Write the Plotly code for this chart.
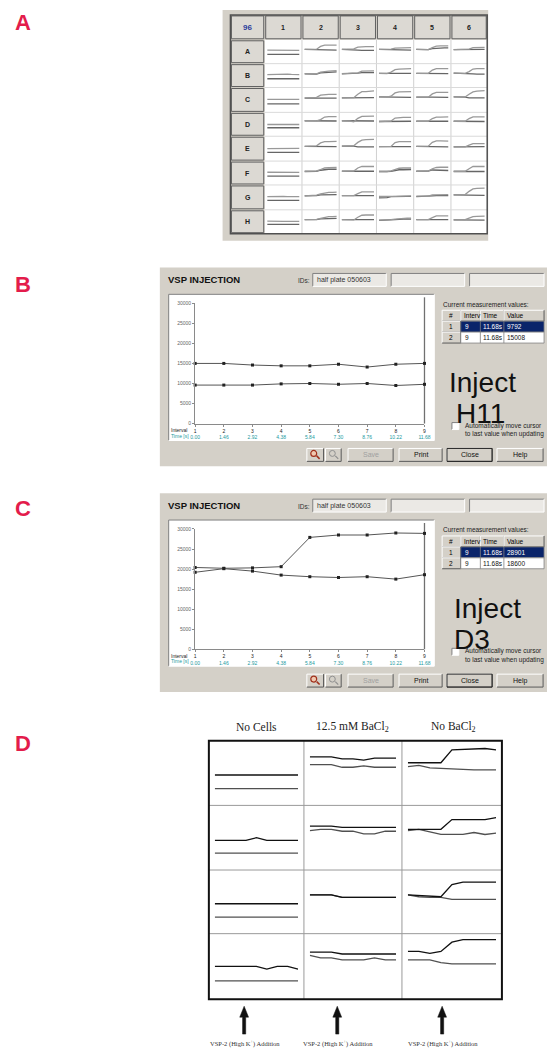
import plotly.graph_objects as go

W, H = 553, 1051
GRAY = "#d4d0c8"

# ---------------- data ----------------
intervals = [1, 2, 3, 4, 5, 6, 7, 8, 9]
time_labels = ["0.00", "1.46", "2.92", "4.38", "5.84", "7.30", "8.76", "10.22", "11.68"]
y_ticks = [0, 5000, 10000, 15000, 20000, 25000, 30000]

plate_cols = ["1", "2", "3", "4", "5", "6"]
plate_rows = ["A", "B", "C", "D", "E", "F", "G", "H"]

# Panel A: per plate row, one list per column (1..6), signal per interval
plate_A_upper = [[18500,18500,18000,17500,17500,18000,18000,18000,18000],[20000,20000,20200,20500,26000,28500,28500,28800,28800],[20000,20000,20000,21000,24500,25500,25500,25500,25500],[20000,20000,20000,20500,22500,23000,23500,23000,23500],[20000,20000,20000,19500,23500,26500,27000,27000,27000],[19500,19500,19500,19500,20500,23500,24000,24000,24000]]
plate_A_lower = [[10000,10000,10000,10000,10000,10000,10000,10000,10000],[20000,20000,19800,19500,19500,19000,19000,18800,18500],[20000,20000,19500,19500,18500,18000,18000,18500,18000],[20000,20000,19800,19500,19000,18500,19000,18500,18500],[20000,20000,19800,19500,21500,22500,23000,23000,23000],[19500,19500,19500,19500,19500,20000,20000,20000,20000]]
plate_B_upper = [[17500,18000,18500,18000,18000,18500,18000,18000,17500],[19500,19500,19000,19000,22500,24000,24500,25000,25500],[19500,19500,19500,20000,21000,24500,25000,25000,25000],[20000,19500,19500,22500,27500,28500,28500,29000,29500],[20000,20000,20000,20000,26500,29500,29500,29500,29500],[20500,20500,20500,20000,23500,28500,29500,29500,29500]]
plate_B_lower = [[9000,9000,9000,9000,9000,9000,9000,9000,9000],[19000,18500,18500,18500,21000,22000,22500,22500,23000],[19000,19000,19500,20000,20500,21500,21500,21500,21500],[20000,19500,19000,20000,20000,20000,20000,20000,20000],[20000,20000,20000,19500,19500,19500,19500,19500,19500],[20500,20500,20500,20000,19000,19000,18500,18500,18500]]
plate_C_upper = [[15500,15500,15500,15500,15500,15500,15500,15500,15500],[18500,18500,18500,19500,24000,25500,25500,25500,25500],[18500,18500,18500,19000,26000,31000,31000,31500,32500],[20500,20500,20000,22000,28500,30500,30500,30500,31000],[20000,19500,20000,20000,26500,29500,29500,29500,29500],[20500,20500,20500,20500,26000,30500,32000,32000,33000]]
plate_C_lower = [[6500,6500,6500,6500,6500,6500,6500,6500,6500],[18000,18000,18000,18000,18000,18000,18000,18000,18000],[18500,18500,18500,18500,19000,19000,19000,19000,19000],[20500,20500,20000,19500,19500,19000,19000,19000,19500],[20000,19500,20000,20000,20000,20000,20000,20000,19500],[20500,20500,20500,20000,18500,18500,18500,18000,18500]]
plate_D_upper = [[15000,15000,14500,15000,14500,15000,15500,15000,15000],[22500,22500,22500,22500,25000,30000,31000,31000,31000],[22500,22500,22000,20500,27500,31500,32000,32000,32000],[21000,21000,21000,22000,28000,29500,29500,29500,29500],[21500,21500,21500,21500,27000,30000,30000,30500,30500],[21500,21500,21500,21500,27000,30500,30500,30500,30500]]
plate_D_lower = [[8500,8500,8500,8500,8500,8500,8500,8500,8500],[22500,22500,22000,22000,22000,22000,22000,22000,22000],[22500,22500,22000,21000,22000,22000,22000,22000,22000],[21000,21000,21000,21500,21500,21500,21500,21500,21500],[21500,21500,21500,21500,21500,21500,21000,21500,21500],[21500,21500,21500,21000,21000,21000,21500,21000,21000]]
plate_E_upper = [[14500,14500,15000,15500,15000,14500,14500,15000,15000],[19000,19000,19000,20000,26000,28500,28500,29000,29000],[19500,19500,20000,20500,27000,31500,32500,33000,33000],[18500,18500,18500,19000,26500,28500,28500,28500,28500],[19000,19000,19000,19500,27000,30000,30000,30000,29500],[18000,18000,18000,18000,21500,24500,24500,24500,24500]]
plate_E_lower = [[7000,7000,7000,7000,7000,7000,7000,7000,7000],[19000,19000,19000,19000,18500,18500,18500,18500,18500],[19500,19500,20000,19500,18000,18500,18000,18000,18000],[18500,18500,18500,18500,18500,18500,18500,18500,18500],[19000,19000,19000,19000,18000,18000,17500,18000,18000],[18000,18000,18000,18000,18500,18500,18500,18500,18500]]
plate_F_upper = [[17000,17000,16500,16500,16000,16500,16500,17000,16500],[19000,19000,19000,19500,22500,25500,26000,26500,26500],[19000,19000,19000,19500,25500,28500,28500,28500,28500],[18500,18000,18500,19500,23000,25000,25500,25500,25500],[19000,19000,19000,19500,24000,26500,27000,27000,27000],[19000,19000,19000,19000,24000,28500,28500,28500,28500]]
plate_F_lower = [[9000,9000,9000,9000,9000,9000,9000,9000,9000],[18500,18500,18500,19000,21000,22500,23000,23000,23000],[19000,19000,19000,19000,19000,19000,19000,19000,19000],[18500,18000,18500,19000,21000,22000,22000,22000,22500],[19000,19000,19000,19500,21500,21500,20000,20500,20500],[18500,18500,18500,18500,18500,18500,18500,18500,18500]]
plate_G_upper = [[16000,16500,16000,16000,16500,16000,16500,16500,16000],[17500,17500,18000,19000,21500,23500,24500,24500,25000],[18000,18000,18000,18000,22000,25500,25500,25500,25500],[16500,17000,17500,16500,16500,17000,17000,16500,17500],[17000,17000,16500,17000,19500,20000,20000,20000,20000],[19500,19500,19500,20000,26500,31500,32500,33000,33000]]
plate_G_lower = [[8500,8500,8500,8500,8500,8500,8500,8500,8500],[17500,17500,17500,18000,19500,20000,20000,19500,20000],[18000,18000,18000,18000,18000,18000,18000,18000,18000],[13500,13500,14000,16000,16500,16500,16500,16500,16500],[16000,16000,16500,16500,17500,18000,18000,18000,18000],[19500,19500,19500,19500,18500,18500,18500,18500,18500]]
plate_H_upper = [[16500,16000,16000,16000,16000,16000,16000,16000,16000],[19500,19500,19500,20000,22000,24500,25500,25500,26000],[19500,19500,19500,19000,24500,28500,29000,29000,29000],[18500,18500,19000,19500,20500,21500,22000,22500,22500],[19500,19500,19500,19500,23500,27000,27000,27000,27000],[19000,19000,19000,19500,22500,25500,26000,26000,26500]]
plate_H_lower = [[10000,10000,10000,10000,10000,10000,10000,10000,10000],[19500,19500,19000,19500,21000,21500,22000,22000,22000],[19500,19500,19500,19000,19500,19500,19500,19500,19500],[18000,18000,18500,19000,19500,20000,21000,21000,20500],[19500,19500,19500,19500,19500,19500,19500,19500,19500],[19000,19000,19000,19000,19500,19000,18500,18500,18500]]

# Panels B and C: VSP injection readings (two traces each)
b_well = "H11"
b_trace1 = [9600, 9600, 9600, 9900, 10000, 9800, 10000, 9500, 9792]
b_trace2 = [15000, 15000, 14600, 14400, 14400, 14800, 14100, 14800, 15008]
c_well = "D3"
c_trace1 = [20400, 20200, 20300, 20600, 27900, 28500, 28500, 29000, 28901]
c_trace2 = [19200, 20100, 19500, 18500, 18100, 17900, 18100, 17500, 18600]

# Panel D: relative signal (% of cell height), per row, columns No Cells / BaCl2 / No BaCl2
d_columns = ["No Cells", "12.5 mM BaCl<sub>2</sub>", "No BaCl<sub>2</sub>"]
d_row1_upper = [[47,47,47,47,47,47,47,47,47],[75,75,75,72,72,70,73,73,73],[66,66,66,66,86,87,87,88,86]]
d_row1_lower = [[26,26,26,26,26,26,26,26,26],[63,63,63,59,59,61,59,59,59],[60,62,58,57,56,55,55,55,55]]
d_row2_upper = [[46,46,46,46,50,46,46,46,46],[68,68,68,66,66,66,66,66,66],[63,63,63,63,78,78,78,78,81]]
d_row2_lower = [[26,26,26,26,26,26,26,26,26],[61,63,63,60,60,56,56,60,60],[61,63,59,55,55,55,58,55,57]]
d_row3_upper = [[47,47,47,47,47,47,47,47,47],[61,61,61,57,57,57,57,57,57],[61,60,59,58,77,81,81,81,81]]
d_row3_lower = [[26,26,26,26,26,26,26,26,26],[61,61,61,57,57,57,57,57,57],[61,58,57,57,54,54,54,54,54]]
d_row4_upper = [[50,50,50,50,50,46,50,50,46],[72,72,72,69,69,69,69,69,69],[73,73,70,73,87,91,91,91,91]]
d_row4_lower = [[28,28,28,28,28,28,28,28,28],[67,63,63,60,60,60,63,60,60],[60,60,60,56,54,54,54,54,54]]
d_addition_label = "VSP-2 (High K<sup>+</sup>) Addition"

# ---------------- helpers ----------------
fig = go.Figure()
shapes, annotations, axes = [], [], {}
n_axes = [0]


def X(x):
    return x / W


def Y(y):
    return 1 - y / H


def rect(x0, y0, x1, y1, fill="rgba(0,0,0,0)", line=None, lw=1, layer="below"):
    shapes.append(dict(type="rect", xref="paper", yref="paper", x0=X(x0), x1=X(x1), y0=Y(y1), y1=Y(y0),
                       fillcolor=fill, layer=layer,
                       line=dict(color=line if line else "rgba(0,0,0,0)", width=lw if line else 0)))


def seg(x0, y0, x1, y1, color, lw=1, layer="below"):
    shapes.append(dict(type="line", xref="paper", yref="paper", x0=X(x0), x1=X(x1), y0=Y(y0), y1=Y(y1),
                       line=dict(color=color, width=lw), layer=layer))


def text(x, y, s, size, color="#000", family="Liberation Sans", xanchor="left", yanchor="middle"):
    annotations.append(dict(x=X(x), y=Y(y), xref="paper", yref="paper", text=s, showarrow=False,
                            xanchor=xanchor, yanchor=yanchor, borderpad=0,
                            font=dict(size=size, color=color, family=family)))


def bevel(x0, y0, x1, y1, raised=True, fill=GRAY):
    rect(x0, y0, x1, y1, fill=fill)
    light, dark = ("#ffffff", "#5a5a5a") if raised else ("#808080", "#ffffff")
    seg(x0, y0, x1, y0, light)
    seg(x0, y0, x0, y1, light)
    seg(x0, y1, x1, y1, dark)
    seg(x1, y0, x1, y1, dark)


def add_axes(x0, x1, y0, y1, xr, yr, xextra=None, yextra=None):
    n_axes[0] += 1
    k = n_axes[0]
    s = "" if k == 1 else str(k)
    xa = dict(domain=[X(x0), X(x1)], range=xr, anchor="y" + s, visible=False, fixedrange=True,
              showgrid=False, zeroline=False)
    ya = dict(domain=[Y(y1), Y(y0)], range=yr, anchor="x" + s, visible=False, fixedrange=True,
              showgrid=False, zeroline=False)
    if xextra:
        xa.update(xextra)
    if yextra:
        ya.update(yextra)
    axes["xaxis" + s] = xa
    axes["yaxis" + s] = ya
    return "x" + s, "y" + s


def line_trace(xa, ya, yv, color, width, mode="lines", marker=None):
    fig.add_trace(go.Scatter(x=intervals, y=yv, xaxis=xa, yaxis=ya, mode=mode,
                             line=dict(color=color, width=width), marker=marker or {},
                             hoverinfo="skip", showlegend=False, cliponaxis=False))


# ---------------- panel letters ----------------
for lab, yy in [("A", 20), ("B", 283), ("C", 508), ("D", 745)]:
    text(18, yy, "<b>%s</b>" % lab, 22, color="#e31c4b", xanchor="center")

# ---------------- Panel A: plate grid ----------------
rect(222, 7, 493, 239, fill=GRAY)
xe = [230, 265, 303, 341, 379, 417, 455, 492]
ye = [12, 37, 61, 85, 110, 134, 159, 183, 208, 232]
rect(265, 37, 492, 232, fill="white")
for xv in xe[2:-1]:
    seg(xv, 37, xv, 232, "#d0d0d0", 1)
for yv in ye[2:-1]:
    seg(265, yv, 492, yv, "#dadada", 1)
# header cells
for i in range(7):
    rect(xe[i] + 1, ye[0] + 1, xe[i + 1] - 1, ye[1] - 1, fill="#dcd9d3", line="#606060", lw=1)
for j in range(1, 9):
    rect(xe[0] + 1, ye[j] + 1, xe[1] - 1, ye[j + 1] - 1, fill="#dcd9d3", line="#606060", lw=1)
rect(230, 12, 492, 232, line="#505050", lw=1.5)
text((xe[0] + xe[1]) / 2, (ye[0] + ye[1]) / 2, "<b>96</b>", 8, color="#2a3c9c", xanchor="center")
for i, c in enumerate(plate_cols):
    text((xe[i + 1] + xe[i + 2]) / 2, (ye[0] + ye[1]) / 2, "<b>%s</b>" % c, 7, color="#222", xanchor="center")
for j, r in enumerate(plate_rows):
    text((xe[0] + xe[1]) / 2, (ye[j + 1] + ye[j + 2]) / 2, "<b>%s</b>" % r, 7, color="#222", xanchor="center")

plate_upper = [plate_A_upper, plate_B_upper, plate_C_upper, plate_D_upper,
               plate_E_upper, plate_F_upper, plate_G_upper, plate_H_upper]
plate_lower = [plate_A_lower, plate_B_lower, plate_C_lower, plate_D_lower,
               plate_E_lower, plate_F_lower, plate_G_lower, plate_H_lower]
for j in range(8):
    top, bot = ye[j + 1], ye[j + 2]
    hgt = bot - top
    yr = [39400 - hgt * 2000, 39400]
    for i in range(6):
        xa, ya = add_axes(xe[i + 1] + 2.5, xe[i + 2] - 2.5, top, bot, [1, 9], yr)
        line_trace(xa, ya, plate_lower[j][i], "#666666", 1.3)
        line_trace(xa, ya, plate_upper[j][i], "#999999", 1.3)


# ---------------- Panels B / C: VSP injection windows ----------------
def vsp_panel(dy, tr1, tr2, well, inject_x, well_x):
    rect(158, 266 + dy, 553, 466 + dy, fill=GRAY)
    text(165, 278 + dy, "<b>VSP INJECTION</b>", 9.5, color="#111")
    text(298, 279 + dy, "IDs:", 6.5, color="#333")
    for (a, b) in [(314, 389), (394, 469), (474, 550)]:
        bevel(a, 272 + dy, b, 285 + dy, raised=False, fill="#ebe9e5")
    text(317, 278.5 + dy, "half plate 050603", 7, color="#333")
    bevel(167, 293 + dy, 438, 440 + dy, raised=False, fill="white")
    xextra = dict(visible=True, showline=True, linecolor="#8a8a8a", linewidth=1, ticks="outside", ticklen=2,
                  tickcolor="#8a8a8a", tickvals=intervals,
                  ticktext=["%d<br><span style='color:#1b9aa0'>%s</span>" % (iv, t)
                            for iv, t in zip(intervals, time_labels)],
                  tickfont=dict(size=5, color="#222", family="Liberation Sans"), tickangle=0)
    yextra = dict(visible=True, showline=True, linecolor="#8a8a8a", linewidth=1, ticks="outside", ticklen=2,
                  tickcolor="#8a8a8a", tickvals=y_ticks, ticktext=[str(v) for v in y_ticks],
                  tickfont=dict(size=5, color="#666", family="Liberation Sans"))
    xa, ya = add_axes(194, 428, 302 + dy, 423 + dy, [1, 9], [0, 30000], xextra, yextra)
    seg(428, 296 + dy, 428, 423 + dy, "#707070", 1.3)
    text(168, 429.5 + dy, "Interval", 5, color="#222")
    text(168, 435 + dy, "Time [s]", 5, color="#1b9aa0")
    mk = dict(symbol="square", size=3, color="#222")
    line_trace(xa, ya, tr1, "#555", 1, mode="lines+markers", marker=mk)
    line_trace(xa, ya, tr2, "#555", 1, mode="lines+markers", marker=mk)

    # measurement table
    text(446, 303 + dy, "Current measurement values:", 6.5, color="#222")
    cx = [446, 465, 485, 509, 550]
    ry = [309 + dy, 320 + dy, 331 + dy, 342 + dy]
    for i in range(4):
        bevel(cx[i], ry[0], cx[i + 1], ry[1])
    bevel(cx[0], ry[1], cx[1], ry[2])
    bevel(cx[0], ry[2], cx[1], ry[3])
    rect(cx[1], ry[1], cx[4], ry[2], fill="#0a246a", line="#808080", lw=0.8)
    rect(cx[1], ry[2], cx[4], ry[3], fill="white", line="#808080", lw=0.8)
    for xv in cx[2:4]:
        seg(xv, ry[1], xv, ry[3], "#808080", 0.8)
    heads = ["#", "Interv", "Time", "Value"]
    text((cx[0] + cx[1]) / 2, (ry[0] + ry[1]) / 2, heads[0], 6.5, xanchor="center")
    for i in range(1, 4):
        text(cx[i] + 2, (ry[0] + ry[1]) / 2, heads[i], 6.5)
    rows = [("1", str(intervals[-1]), time_labels[-1] + "s", str(tr1[-1]), "white"),
            ("2", str(intervals[-1]), time_labels[-1] + "s", str(tr2[-1]), "#111")]
    for k, (a, b, c, d, col) in enumerate(rows):
        yc = (ry[k + 1] + ry[k + 2]) / 2
        text((cx[0] + cx[1]) / 2, yc, a, 6.5, xanchor="center")
        text(cx[1] + 3, yc, b, 6.5, color=col)
        text(cx[2] + 2, yc, c, 6.5, color=col)
        text(cx[3] + 2, yc, d, 6.5, color=col)

    text(inject_x, 382 + dy, "Inject", 28, color="#111")
    text(well_x, 413 + dy, well, 28, color="#111")
    bevel(456, 422 + dy, 463, 429 + dy, raised=False, fill="white")
    text(468, 425 + dy, "Automatically move cursor", 6.5, color="#222")
    text(468, 433.5 + dy, "to last value when updating", 6.5, color="#222")

    # buttons
    b0, b1 = 448 + dy, 461 + dy
    bevel(308, b0, 325, b1)
    bevel(327, b0, 343, b1)
    shapes.append(dict(type="circle", xref="paper", yref="paper", x0=X(312), x1=X(318), y0=Y(456 + dy),
                       y1=Y(450 + dy), line=dict(color="#a0301c", width=1.2), fillcolor="#f0c8b0", layer="below"))
    seg(318, 455.5 + dy, 321, 458.5 + dy, "#a0301c", 1.5)
    shapes.append(dict(type="circle", xref="paper", yref="paper", x0=X(331), x1=X(337), y0=Y(456 + dy),
                       y1=Y(450 + dy), line=dict(color="#909090", width=1), layer="below"))
    seg(337, 455.5 + dy, 340, 458.5 + dy, "#909090", 1.3)
    for (a, b, lab, col) in [(350, 396, "Save", "#a0a0a0"), (402, 446, "Print", "#111"),
                             (451, 497, "Close", "#111"), (502, 549, "Help", "#111")]:
        bevel(a, b0, b, b1)
        text((a + b) / 2, (b0 + b1) / 2, lab, 7, color=col, xanchor="center")
    rect(451, b0, 497, b1, line="#222", lw=1)


vsp_panel(0, b_trace1, b_trace2, b_well, 452, 459)
vsp_panel(227, c_trace1, c_trace2, c_well, 457, 457)

# ---------------- Panel D ----------------
dx = [208, 305, 405, 507]
dyb = [742, 807, 872, 936, 1002]
rect(208, 742, 507, 1002, fill="white")
for xv in dx[1:3]:
    seg(xv, 742, xv, 1002, "#9a9a9a", 1)
for yv in dyb[1:4]:
    seg(208, yv, 507, yv, "#9a9a9a", 1)
rect(208, 742, 507, 1002, line="#111", lw=2, layer="above")
for i, lab in enumerate(d_columns):
    text((dx[i] + dx[i + 1]) / 2 + (2 if i == 2 else 0), 728, lab, 11.5, color="#222",
         family="Liberation Serif", xanchor="center")

d_upper = [d_row1_upper, d_row2_upper, d_row3_upper, d_row4_upper]
d_lower = [d_row1_lower, d_row2_lower, d_row3_lower, d_row4_lower]
for r in range(4):
    for c in range(3):
        xa, ya = add_axes(dx[c] + 6, dx[c + 1] - 6, dyb[r], dyb[r + 1], [1, 9], [0, 100])
        line_trace(xa, ya, d_lower[r][c], "#505050", 1.3)
        line_trace(xa, ya, d_upper[r][c], "#111111", 1.3)

for xc in [244, 339, 446]:
    path = "M %f,%f L %f,%f L %f,%f L %f,%f L %f,%f L %f,%f L %f,%f Z" % (
        X(xc), Y(1009), X(xc + 4.5), Y(1020), X(xc + 1.6), Y(1020), X(xc + 1.6), Y(1037),
        X(xc - 1.6), Y(1037), X(xc - 1.6), Y(1020), X(xc - 4.5), Y(1020))
    shapes.append(dict(type="path", xref="paper", yref="paper", path=path, fillcolor="#111",
                       line=dict(color="#111", width=0.5), layer="above"))
    text(xc + 1, 1046.5, d_addition_label, 6.5, color="#333", family="Liberation Serif", xanchor="center")

fig.update_layout(width=W, height=H, margin=dict(l=0, r=0, t=0, b=0), paper_bgcolor="white",
                  plot_bgcolor="rgba(0,0,0,0)", showlegend=False, shapes=shapes, annotations=annotations,
                  **axes)
fig.write_html("out.html", config={"displayModeBar": False, "staticPlot": True},
               post_script="document.body.style.margin='0';document.body.style.overflow='hidden';")
